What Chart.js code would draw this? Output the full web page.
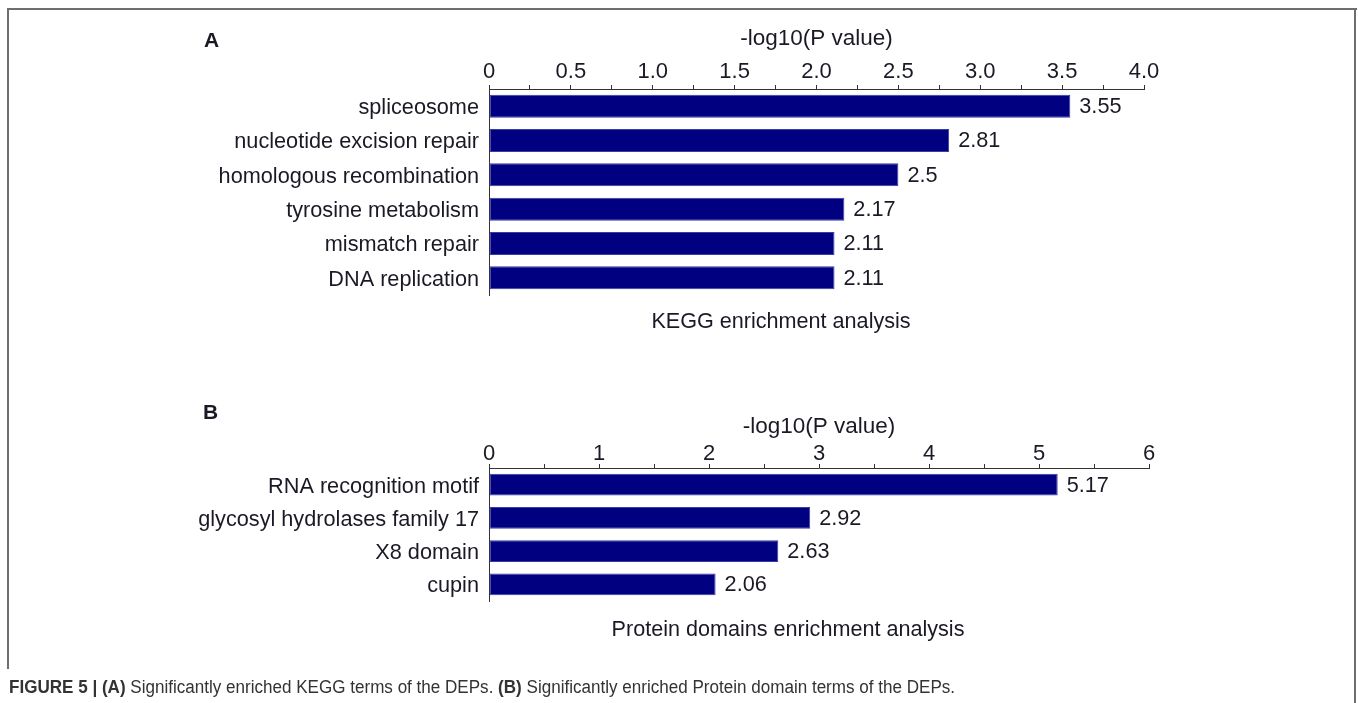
<!DOCTYPE html>
<html>
<head>
<meta charset="utf-8">
<script src="https://cdn.jsdelivr.net/npm/chart.js@4.4.1/dist/chart.umd.min.js"></script>
<style>
  html, body { margin: 0; padding: 0; background: #fff; }
  #page { position: relative; width: 1358px; height: 703px; overflow: hidden; font-family: "Liberation Sans", Arial, sans-serif; color: #1a1a26; }
  canvas { position: absolute; left: 0; top: 0; }
  .line { position: absolute; background: #6e6e6e; }
  .txt { position: absolute; white-space: nowrap; }
  .panel { font-weight: bold; font-size: 21px; }
  .sub { font-size: 21.6px; transform: translateX(-50%); }
  #caption { left: 9px; top: 677px; font-size: 18px; line-height: 20px; color: #333; transform-origin: left center; }
</style>
</head>
<body>
<div id="page">
  <div class="line" style="left:7px; top:8px; width:1350px; height:2px;"></div>
  <div class="line" style="left:7px; top:8px; width:2px; height:661px;"></div>
  <div class="line" style="left:1354px; top:8px; width:2px; height:695px;"></div>

  <canvas id="chart-kegg" width="1358" height="703"></canvas>
  <canvas id="chart-domain" width="1358" height="703"></canvas>

  <div class="txt panel" style="left:204px; top:28px;">A</div>
  <div class="txt panel" style="left:203px; top:400px;">B</div>
  <div class="txt sub" style="left:781px; top:308px;">KEGG enrichment analysis</div>
  <div class="txt sub" style="left:788px; top:616px;">Protein domains enrichment analysis</div>
  <div class="txt" id="caption"><b>FIGURE 5 | (A)</b> Significantly enriched KEGG terms of the DEPs. <b>(B)</b> Significantly enriched Protein domain terms of the DEPs.</div>
</div>

<script>
// KEGG pathways
const keggTerms = ['spliceosome', 'nucleotide excision repair', 'homologous recombination',
  'tyrosine metabolism', 'mismatch repair', 'DNA replication'];
const keggScores = [3.55, 2.81, 2.5, 2.17, 2.11, 2.11];
const keggTickLabels = ['0', '0.5', '1.0', '1.5', '2.0', '2.5', '3.0', '3.5', '4.0'];

// protein domains
const domainTerms = ['RNA recognition motif', 'glycosyl hydrolases family 17', 'X8 domain', 'cupin'];
const domainScores = [5.17, 2.92, 2.63, 2.06];
const domainTickLabels = ['0', '1', '2', '3', '4', '5', '6'];

const FONT = 'Liberation Sans, Arial, sans-serif';
const TEXT = '#1a1a26';
const AXIS = '#333333';
const BAR = '#000080';

// writes the value just past the end of each bar
const valueLabels = {
  id: 'valueLabels',
  afterDatasetsDraw(chart) {
    const ctx = chart.ctx;
    const meta = chart.getDatasetMeta(0);
    const values = chart.data.datasets[0].data;
    ctx.save();
    ctx.font = '21.7px ' + FONT;
    ctx.fillStyle = TEXT;
    ctx.textAlign = 'left';
    ctx.textBaseline = 'middle';
    meta.data.forEach((bar, i) => {
      ctx.fillText(String(values[i]), bar.x + 9, bar.y + 1);
    });
    ctx.restore();
  }
};

function enrichmentChart(canvasId, terms, scores, tickLabels, opts) {
  const majorStep = opts.max / (tickLabels.length - 1);
  return new Chart(document.getElementById(canvasId), {
    type: 'bar',
    data: {
      labels: terms,
      datasets: [{
        data: scores,
        backgroundColor: BAR,
        borderColor: '#3a3aa8',
        borderWidth: 1,
        borderSkipped: false,
        barPercentage: opts.barPct,
        categoryPercentage: 1,
      }],
    },
    plugins: [valueLabels],
    options: {
      indexAxis: 'y',
      responsive: false,
      animation: false,
      layout: { padding: opts.padding },
      plugins: { legend: { display: false }, tooltip: { enabled: false } },
      scales: {
        x: {
          position: 'top',
          min: 0,
          max: opts.max,
          afterFit(scale) { scale.height = opts.axisHeight; },
          afterBuildTicks(scale) {
            const ticks = [];
            for (let v = 0; v <= opts.max + 1e-9; v += majorStep / 2) ticks.push({ value: +v.toFixed(4) });
            scale.ticks = ticks;
          },
          ticks: {
            autoSkip: false,
            maxRotation: 0,
            padding: opts.tickPad,
            color: TEXT,
            font: { family: FONT, size: 22 },
            callback(value) {
              const k = value / majorStep;
              return Math.abs(k - Math.round(k)) < 1e-6 ? tickLabels[Math.round(k)] : '';
            },
          },
          grid: { drawOnChartArea: false, drawTicks: true, tickLength: 4, color: AXIS },
          border: { color: AXIS, width: 1 },
          title: {
            display: true,
            text: '-log10(P value)',
            color: TEXT,
            font: { family: FONT, size: 22.5 },
            padding: { top: opts.titleTop, bottom: 0 },
          },
        },
        y: {
          afterFit(scale) { scale.width = 489; },
          ticks: { padding: 10, labelOffset: 2, color: TEXT, font: { family: FONT, size: 21.7 } },
          grid: { drawOnChartArea: false, drawTicks: false, color: AXIS },
          border: { color: AXIS, width: 1 },
        },
      },
    },
  });
}

enrichmentChart('chart-kegg', keggTerms, keggScores, keggTickLabels, {
  max: 4,
  barPct: 0.67,
  axisHeight: 89,
  titleTop: 25,
  tickPad: 0,
  padding: { top: 0, left: 0, right: 214, bottom: 408 },
});

enrichmentChart('chart-domain', domainTerms, domainScores, domainTickLabels, {
  max: 6,
  barPct: 0.66,
  axisHeight: 89,
  titleTop: 34,
  tickPad: -3,
  padding: { top: 379, left: 0, right: 209, bottom: 102 },
});

// squeeze the caption to the width of the printed figure legend
const cap = document.getElementById('caption');
const w = cap.getBoundingClientRect().width;
cap.style.transform = 'scaleX(' + (946 / w).toFixed(4) + ')';
</script>
</body>
</html>
